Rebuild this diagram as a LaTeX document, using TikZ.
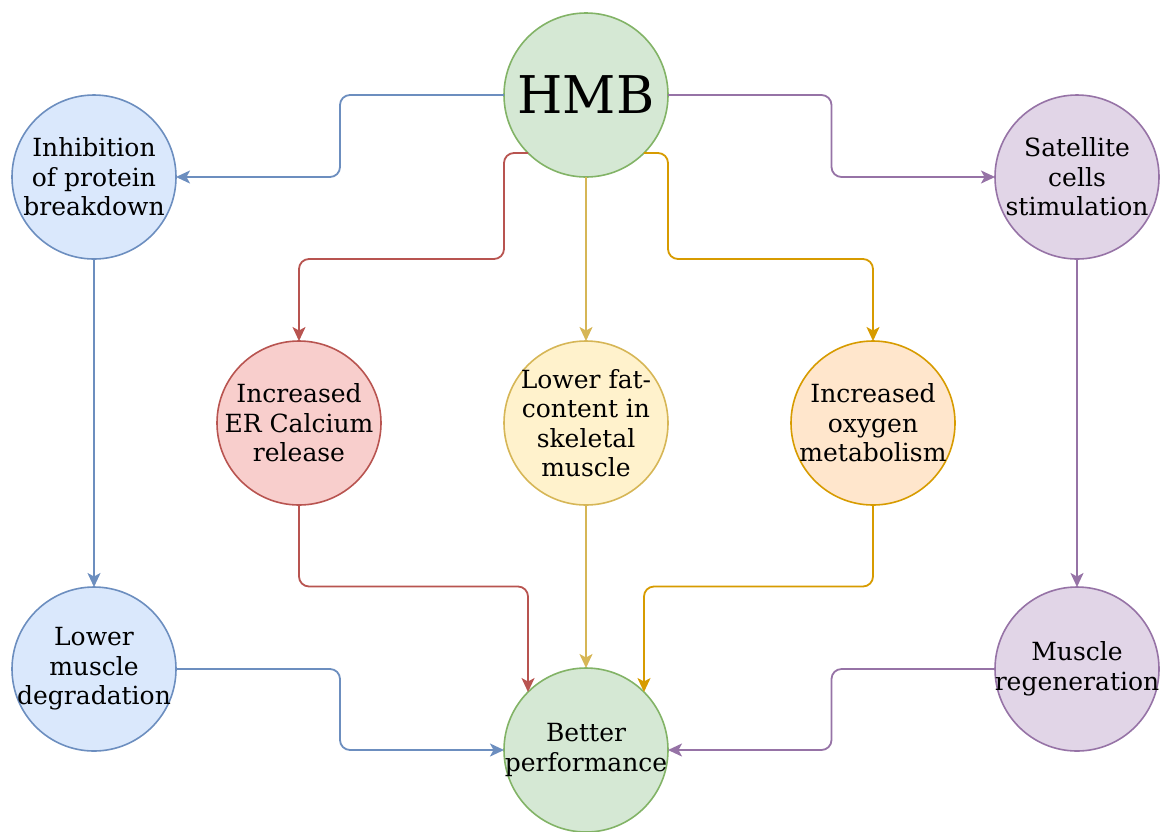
\documentclass[tikz,border=0pt]{standalone}
\usepackage{fontspec}
\setmainfont{DejaVu Serif}
\usepackage{tikz}
\usetikzlibrary{calc,arrows.meta,positioning}
\definecolor{bluefill}{HTML}{DAE8FC}
\definecolor{bluedraw}{HTML}{6C8EBF}
\definecolor{greenfill}{HTML}{D5E8D4}
\definecolor{greendraw}{HTML}{82B366}
\definecolor{purplefill}{HTML}{E1D5E7}
\definecolor{purpledraw}{HTML}{9673A6}
\definecolor{redfill}{HTML}{F8CECC}
\definecolor{reddraw}{HTML}{B85450}
\definecolor{yellowfill}{HTML}{FFF2CC}
\definecolor{yellowdraw}{HTML}{D6B656}
\definecolor{orangefill}{HTML}{FFE6CC}
\definecolor{orangedraw}{HTML}{D79B00}
\tikzset{
	bubble/.style={
		draw, circle, minimum size=164pt,
		inner sep=-20pt, outer sep=0pt, line width=1.6pt,
		text=black, align=center,
		font=\fontsize{25}{29.5}\selectfont
	},
	blue_bubble/.style={bubble, draw=bluedraw, fill=bluefill},
	green_bubble/.style={bubble, draw=greendraw, fill=greenfill},
	purple_bubble/.style={bubble, draw=purpledraw, fill=purplefill},
	red_bubble/.style={bubble, draw=reddraw, fill=redfill},
	yellow_bubble/.style={bubble, draw=yellowdraw, fill=yellowfill},
	orange_bubble/.style={bubble, draw=orangedraw, fill=orangefill},
	flow_arrow/.style={
		line width=1.8pt, rounded corners=10pt,
		-{Stealth[length=14pt,width=13pt,inset=3.5pt]}
	},
	blue_arrow/.style={flow_arrow, draw=bluedraw},
	purple_arrow/.style={flow_arrow, draw=purpledraw},
	red_arrow/.style={flow_arrow, draw=reddraw},
	yellow_arrow/.style={flow_arrow, draw=yellowdraw},
	orange_arrow/.style={flow_arrow, draw=orangedraw}
}
\begin{document}
\begin{tikzpicture}[x=1pt,y=1pt]
	\useasboundingbox (0,0) rectangle (1161,-831);
	% middle column
	\node[green_bubble, font=\fontsize{52}{60}\selectfont] (hmb) at (586,-95) {HMB};
	\node[yellow_bubble] (fat) [below=164pt of hmb] {Lower fat-\\content in\\skeletal\\muscle};
	\node[green_bubble] (perf) [below=163pt of fat] {Better\\performance};
	\node[red_bubble] (er) [left=123pt of fat] {Increased\\ER Calcium\\release};
	\node[orange_bubble] (oxy) [right=123pt of fat] {Increased\\oxygen\\metabolism};
	% side columns
	\node[blue_bubble] (inhib) at (94,-177) {Inhibition\\of protein\\breakdown};
	\node[blue_bubble] (lowdeg) [below=328pt of inhib] {Lower\\muscle\\degradation};
	\node[purple_bubble] (satel) at (1077,-177) {Satellite\\cells\\stimulation};
	\node[purple_bubble] (regen) [below=328pt of satel] {Muscle\\regeneration};
	\coordinate (top_mid) at ($(hmb.south)!.5!(fat.north)$);
	\coordinate (bot_mid) at ($(fat.south)!.5!(perf.north)$);
	% from HMB
	\draw[blue_arrow] (hmb.west) -| ($(hmb.west)!.5!(inhib.east)$) |- (inhib.east);
	\draw[purple_arrow] (hmb.east) -| ($(hmb.east)!.5!(satel.west)$) |- (satel.west);
	\draw[red_arrow] (hmb.south west) -| (hmb.west |- top_mid) -| (er.north);
	\draw[yellow_arrow] (hmb.south) -- (fat.north);
	\draw[orange_arrow] (hmb.south east) -| (hmb.east |- top_mid) -| (oxy.north);
	\draw[blue_arrow] (inhib.south) -- (lowdeg.north);
	\draw[purple_arrow] (satel.south) -- (regen.north);
	% to better performance
	\draw[red_arrow] (er.south) |- (bot_mid -| perf.north west) -- (perf.north west);
	\draw[yellow_arrow] (fat.south) -- (perf.north);
	\draw[orange_arrow] (oxy.south) |- (bot_mid -| perf.north east) -- (perf.north east);
	\draw[blue_arrow] (lowdeg.east) -| ($(lowdeg.east)!.5!(perf.west)$) |- (perf.west);
	\draw[purple_arrow] (regen.west) -| ($(regen.west)!.5!(perf.east)$) |- (perf.east);
\end{tikzpicture}
\end{document}
